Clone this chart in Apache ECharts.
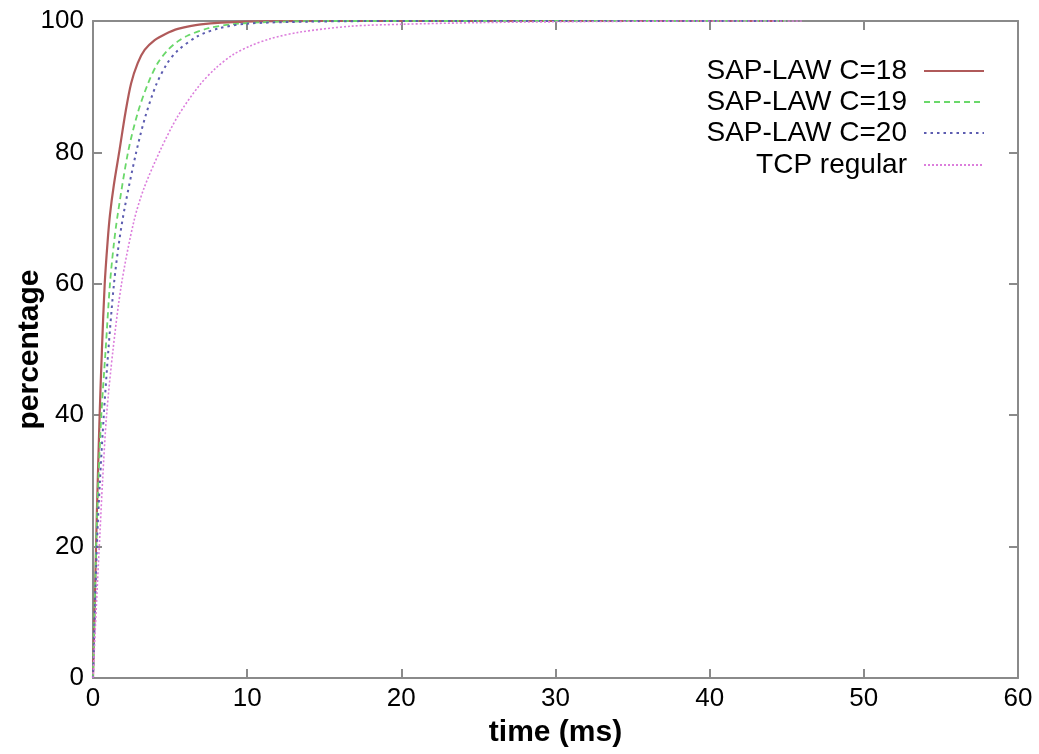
<!DOCTYPE html>
<html>
<head>
<meta charset="utf-8">
<script src="https://cdn.jsdelivr.net/npm/echarts@6/dist/echarts.min.js"></script>
<style>
  html, body { margin: 0; padding: 0; background: #fff; }
  #chart { width: 1039px; height: 754px; }
</style>
</head>
<body>
<div id="chart"></div>
<script>
// Cumulative percentage of transfers completed vs. time, [time (ms), percentage]
const sapLawC18 = [
  [0, 0], [0.12, 12], [0.25, 25], [0.43, 40], [0.58, 50], [0.76, 60], [0.95, 66.5],
  [1.1, 70.5], [1.35, 75], [1.73, 80.5], [2.1, 86], [2.47, 90.5], [2.9, 93.6],
  [3.35, 95.6], [4.0, 97.1], [4.67, 98], [5.5, 98.8], [7, 99.5], [10, 99.9],
  [15, 100], [45, 100]
];
const sapLawC19 = [
  [0, 0], [0.2, 20], [0.35, 30], [0.54, 40], [0.82, 50], [1.1, 60], [1.35, 66],
  [1.6, 70.5], [2.27, 80], [2.9, 86], [3.57, 90.5], [4.2, 93.6], [4.86, 95.6],
  [5.5, 96.9], [6.16, 97.8], [7.5, 98.9], [9, 99.5], [12, 99.9], [16, 100], [45, 100]
];
const sapLawC20 = [
  [0, 0], [0.25, 20], [0.45, 30], [0.7, 40], [1.0, 50], [1.36, 60], [1.7, 66.5],
  [2.05, 71.5], [2.8, 80], [3.4, 85.5], [4.1, 90.3], [4.8, 93.5], [5.5, 95.5],
  [6.8, 97.7], [8.2, 98.9], [10, 99.6], [14, 99.9], [20, 100], [45, 100]
];
const tcpRegular = [
  [0, 0], [0.3, 15], [0.45, 22], [0.62, 30], [0.88, 40], [1.3, 50], [1.85, 60],
  [2.65, 69.5], [3.3, 74.5], [4.4, 80.5], [5.5, 85.5], [6.9, 90.2], [8, 92.9],
  [9.1, 94.9], [10.2, 96.2], [11.5, 97.3], [13.4, 98.3], [16.7, 99.2], [20, 99.5],
  [25, 99.75], [30, 99.88], [40, 100], [46, 100]
];

const seriesNames = ['SAP-LAW C=18', 'SAP-LAW C=19', 'SAP-LAW C=20', 'TCP regular'];
const xTicks = { min: 0, max: 60, interval: 10 };
const yTicks = { min: 0, max: 100, interval: 20 };

const FONT = '"Liberation Sans", Arial, sans-serif';
const frameColor = '#8a8a8a';

const axisCommon = {
  axisLine: { show: true, onZero: false, lineStyle: { color: frameColor, width: 2 } },
  axisTick: { show: true, inside: true, length: 9, lineStyle: { color: frameColor, width: 2 } },
  splitLine: { show: false }
};

function legendRow(name, top) {
  return {
    data: [name],
    right: 54,
    top: top,
    orient: 'vertical',
    align: 'right',
    padding: 0,
    itemWidth: 60,
    itemHeight: 14,
    selectedMode: false,
    itemStyle: { opacity: 0 },
    textStyle: { fontFamily: FONT, fontSize: 28, color: '#000', padding: [0, 12, 0, 0] }
  };
}

const chart = echarts.init(document.getElementById('chart'), null, { renderer: 'canvas' });
chart.setOption({
  backgroundColor: '#ffffff',
  animation: false,
  grid: { left: 93, right: 21, top: 21, bottom: 76, containLabel: false, outerBoundsMode: 'none' },
  legend: [
    legendRow(seriesNames[0], 57),
    legendRow(seriesNames[1], 88),
    legendRow(seriesNames[2], 119),
    legendRow(seriesNames[3], 151)
  ],
  xAxis: [
    Object.assign({
      type: 'value', position: 'bottom',
      min: xTicks.min, max: xTicks.max, interval: xTicks.interval,
      name: 'time (ms)', nameLocation: 'middle', nameGap: 40,
      nameTextStyle: { fontFamily: FONT, fontSize: 30, fontWeight: 'bold', color: '#000' },
      axisLabel: { fontFamily: FONT, fontSize: 26, color: '#000', margin: 8 }
    }, axisCommon),
    Object.assign({
      type: 'value', position: 'top',
      min: xTicks.min, max: xTicks.max, interval: xTicks.interval,
      axisLabel: { show: false }
    }, axisCommon)
  ],
  yAxis: [
    Object.assign({
      type: 'value', position: 'left',
      min: yTicks.min, max: yTicks.max, interval: yTicks.interval,
      name: 'percentage', nameLocation: 'middle', nameGap: 48, nameMoveOverlap: false,
      nameTextStyle: { fontFamily: FONT, fontSize: 30, fontWeight: 'bold', color: '#000' },
      axisLabel: { fontFamily: FONT, fontSize: 26, color: '#000', margin: 9 }
    }, axisCommon),
    Object.assign({
      type: 'value', position: 'right',
      min: yTicks.min, max: yTicks.max, interval: yTicks.interval,
      axisLabel: { show: false }
    }, axisCommon)
  ],
  series: [
    {
      name: seriesNames[0], type: 'line', data: sapLawC18, symbol: 'none',
      smooth: 0.3, color: '#b05a5a',
      lineStyle: { color: '#b05a5a', width: 2.2, type: 'solid' }
    },
    {
      name: seriesNames[1], type: 'line', data: sapLawC19, symbol: 'none',
      smooth: 0.3, color: '#6ad86a',
      lineStyle: { color: '#6ad86a', width: 1.8, type: [6, 4] }
    },
    {
      name: seriesNames[2], type: 'line', data: sapLawC20, symbol: 'none',
      smooth: 0.3, color: '#5c5cb0',
      lineStyle: { color: '#5c5cb0', width: 2, type: [2.5, 4] }
    },
    {
      name: seriesNames[3], type: 'line', data: tcpRegular, symbol: 'none',
      smooth: 0.3, color: '#dc7edc',
      lineStyle: { color: '#dc7edc', width: 1.6, type: [2, 2] }
    }
  ]
});
</script>
</body>
</html>
